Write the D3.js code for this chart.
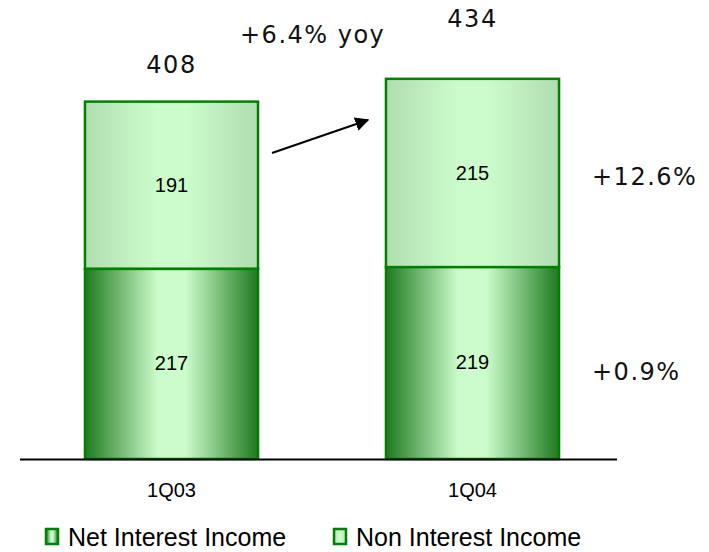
<!DOCTYPE html>
<html><head><meta charset="utf-8">
<script src="https://cdn.jsdelivr.net/npm/d3@7"></script>
<style>body{margin:0;background:#fff}</style>
</head><body>
<svg id="c" width="709" height="552"></svg>
<script>
const categories = ["1Q03", "1Q04"];
const netInterest = [217, 219];
const nonInterest = [191, 215];
const totals = [408, 434];
const seriesNames = ["Net Interest Income", "Non Interest Income"];
const growthLabels = ["+0.9%", "+12.6%"];
const yoyLabel = "+6.4% yoy";

const svg = d3.select("#c");
const x = d3.scaleBand().domain(categories).range([21, 623]).paddingInner(0.425).paddingOuter(0.2125);
const y = d3.scaleLinear().domain([0, 524]).range([459, 0]);
const numFont = "DejaVu Sans, Verdana";
const txtFont = "Liberation Sans, Arial";

const defs = svg.append("defs");
function grad(id, edge, center) {
  const g = defs.append("linearGradient").attr("id", id).attr("x1", "0").attr("x2", "1").attr("y1", "0").attr("y2", "0");
  g.append("stop").attr("offset", "0%").attr("stop-color", edge);
  g.append("stop").attr("offset", "42%").attr("stop-color", center);
  g.append("stop").attr("offset", "58%").attr("stop-color", center);
  g.append("stop").attr("offset", "100%").attr("stop-color", edge);
}
grad("gNet", "#1f7a1f", "#ccfccc");
grad("gNon", "#b1ddb1", "#ccfccc");

const stacked = categories.map((c, i) => ({c, net: netInterest[i], non: nonInterest[i], total: totals[i]}));

// Non interest (top)
svg.selectAll(".non").data(stacked).join("rect")
  .attr("x", d => x(d.c)).attr("width", x.bandwidth())
  .attr("y", d => y(d.net + d.non)).attr("height", d => y(d.net) - y(d.net + d.non))
  .attr("fill", "url(#gNon)").attr("stroke", "#008000").attr("stroke-width", 2.5);
// Net interest (bottom)
svg.selectAll(".net").data(stacked).join("rect")
  .attr("x", d => x(d.c)).attr("width", x.bandwidth())
  .attr("y", d => y(d.net)).attr("height", d => y(0) - y(d.net))
  .attr("fill", "url(#gNet)").attr("stroke", "#008000").attr("stroke-width", 2.5);

// in-bar labels
svg.selectAll(".lnet").data(stacked).join("text")
  .attr("x", d => x(d.c) + x.bandwidth() / 2).attr("y", d => y(d.net / 2) + 6)
  .attr("text-anchor", "middle").attr("font-family", txtFont).attr("font-size", 20)
  .text(d => d.net);
svg.selectAll(".lnon").data(stacked).join("text")
  .attr("x", d => x(d.c) + x.bandwidth() / 2).attr("y", d => y(d.net + d.non / 2) + 7)
  .attr("text-anchor", "middle").attr("font-family", txtFont).attr("font-size", 20)
  .text(d => d.non);
// totals
const totalLift = [29, 52];
svg.selectAll(".ltot").data(stacked).join("text")
  .attr("x", d => x(d.c) + x.bandwidth() / 2).attr("y", (d, i) => y(d.total) - totalLift[i])
  .attr("text-anchor", "middle").attr("font-family", numFont).attr("font-size", 24)
  .attr("letter-spacing", 1.5).attr("fill", "#111").text(d => d.total);

// axis
svg.append("line").attr("x1", 20).attr("x2", 617).attr("y1", y(0) + 0.5).attr("y2", y(0) + 0.5)
  .attr("stroke", "#000").attr("stroke-width", 2);
const ax = svg.append("g").attr("transform", `translate(0,${y(0)})`)
  .call(d3.axisBottom(x).tickSize(0));
ax.select(".domain").remove();
ax.selectAll("text").attr("font-family", txtFont).attr("font-size", 20)
  .attr("fill", "#000").attr("y", 38).attr("dy", 0);

// growth labels
svg.append("text").attr("x", 592).attr("y", 380)
  .attr("font-family", numFont).attr("font-size", 24).attr("letter-spacing", 1.5).attr("fill", "#111").text(growthLabels[0]);
svg.append("text").attr("x", 592).attr("y", 185)
  .attr("font-family", numFont).attr("font-size", 24).attr("letter-spacing", 1.5).attr("fill", "#111").text(growthLabels[1]);
svg.append("text").attr("x", 240).attr("y", 43)
  .attr("font-family", numFont).attr("font-size", 24).attr("letter-spacing", 1.5).attr("fill", "#111").text(yoyLabel);

// arrow
defs.append("marker").attr("id", "ah").attr("viewBox", "0 0 10 10").attr("refX", 9).attr("refY", 5)
  .attr("markerWidth", 7).attr("markerHeight", 7).attr("markerUnits", "strokeWidth").attr("orient", "auto")
  .append("path").attr("d", "M0,0 L10,5 L0,10 Z").attr("fill", "#000");
svg.append("line").attr("x1", 272).attr("y1", 153).attr("x2", 368).attr("y2", 120)
  .attr("stroke", "#000").attr("stroke-width", 2).attr("marker-end", "url(#ah)");

// legend
const leg = [{name: seriesNames[0], fill: "url(#gNet)", x: 46}, {name: seriesNames[1], fill: "url(#gNon)", x: 334}];
const lg = svg.selectAll(".leg").data(leg).join("g").attr("transform", d => `translate(${d.x},0)`);
lg.append("rect").attr("x", 0).attr("y", 529).attr("width", 12).attr("height", 15)
  .attr("fill", d => d.fill).attr("stroke", "#008000").attr("stroke-width", 2.5);
lg.append("text").attr("x", 22).attr("y", 546).attr("font-family", txtFont)
  .attr("font-size", 25).attr("fill", "#000").text(d => d.name);
</script>
</body></html>
